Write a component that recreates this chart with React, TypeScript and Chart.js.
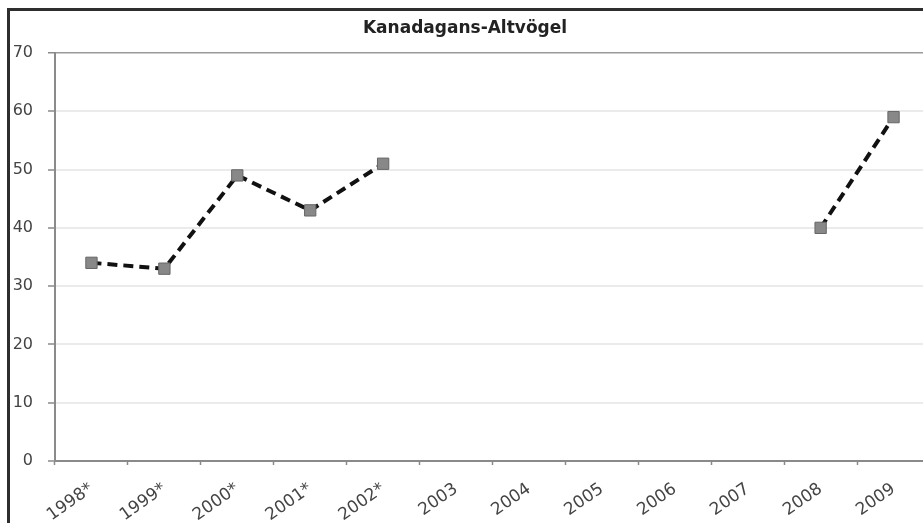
import React, { useEffect, useRef } from "react";
import { Chart, registerables } from "chart.js";

Chart.register(...registerables);

const TITLE = "Kanadagans-Altvögel";
const CATEGORIES = ["1998*", "1999*", "2000*", "2001*", "2002*", "2003", "2004", "2005", "2006", "2007", "2008", "2009"];
const VALUES: (number | null)[] = [34, 33, 49, 43, 51, null, null, null, null, null, 40, 59];
const Y_MIN = 0;
const Y_MAX = 70;
const Y_STEP = 10;

const CANVAS_W = 945;
const CANVAS_H = 523;

export default function App() {
  const ref = useRef<HTMLCanvasElement | null>(null);

  useEffect(() => {
    document.documentElement.style.overflow = "hidden";
    const canvas = ref.current;
    if (!canvas) return;
    const chart = new Chart(canvas, {
      type: "line",
      data: {
        labels: CATEGORIES,
        datasets: [
          {
            data: VALUES,
            borderColor: "#111111",
            borderWidth: 4,
            borderDash: [10, 6],
            borderCapStyle: "butt",
            tension: 0,
            spanGaps: false,
            fill: false,
            pointStyle: "rect",
            pointRadius: 8,
            pointHoverRadius: 8,
            pointBackgroundColor: "#888888",
            pointBorderColor: "#666666",
            pointBorderWidth: 1,
          },
        ],
      },
      options: {
        responsive: false,
        animation: false,
        devicePixelRatio: 1,
        layout: { padding: { left: 0, right: 15, top: 0, bottom: 0 } },
        plugins: {
          legend: { display: false },
          tooltip: { enabled: false },
          title: {
            display: true,
            text: TITLE,
            color: "#222222",
            font: { family: "DejaVu Sans", size: 17, weight: "bold", lineHeight: 1.2 },
            padding: { top: 18, bottom: 14.6 },
          },
        },
        scales: {
          x: {
            type: "category",
            offset: true,
            grid: {
              offset: true,
              drawOnChartArea: false,
              drawTicks: true,
              tickLength: 4,
              tickColor: "#8a8a8a",
              tickWidth: 1.5,
            },
            border: { display: true, color: "#8a8a8a", width: 2 },
            ticks: {
              autoSkip: false,
              minRotation: 35,
              maxRotation: 35,
              padding: 14,
              color: "#444444",
              font: { family: "DejaVu Sans", size: 17 },
            },
            afterFit: (s: any) => {
              s.height = 62;
            },
          },
          y: {
            min: Y_MIN,
            max: Y_MAX,
            ticks: {
              stepSize: Y_STEP,
              padding: 15,
              color: "#444444",
              font: { family: "DejaVu Sans", size: 16 },
            },
            grid: {
              color: (c: any) => (c.tick && c.tick.value === Y_MAX ? "#9a9a9a" : "#ebebeb"),
              lineWidth: (c: any) => (c.tick && c.tick.value === Y_MAX ? 1.5 : 2),
              tickLength: 7,
              tickColor: "#8a8a8a",
              tickWidth: 1.5,
            },
            border: { display: true, color: "#8a8a8a", width: 2 },
            afterFit: (s: any) => {
              s.width = 55;
            },
          },
        },
      },
    });
    return () => chart.destroy();
  }, []);

  return (
    <div style={{ position: "fixed", left: 0, top: 0, width: 923, height: 523, overflow: "hidden", background: "#ffffff" }}>
      <canvas
        ref={ref}
        width={CANVAS_W}
        height={CANVAS_H}
        style={{ position: "absolute", left: 0, top: 0, width: CANVAS_W, height: CANVAS_H, display: "block" }}
      />
      <div
        style={{
          position: "absolute",
          left: 7,
          top: 8,
          width: 940,
          height: 540,
          borderLeft: "3px solid #2e2e2e",
          borderTop: "3px solid #2e2e2e",
          pointerEvents: "none",
        }}
      />
    </div>
  );
}
